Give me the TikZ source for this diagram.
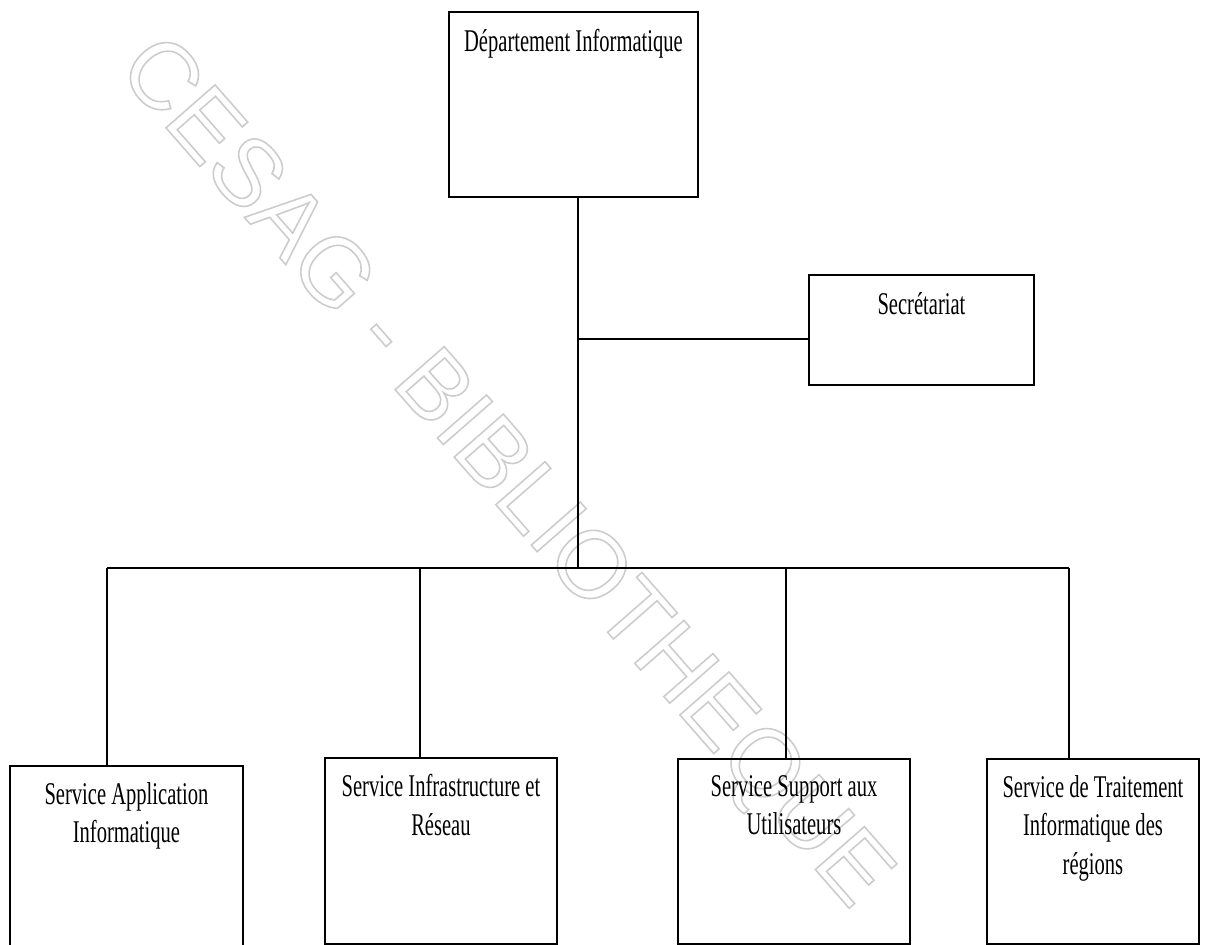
\documentclass[tikz,border=0pt]{standalone}
\usepackage{fontspec}
\setmainfont{Liberation Serif}
\newfontfamily\orgfont{Liberation Serif}[FakeStretch=0.65]
\newfontfamily\stampfont{Liberation Sans}
\usetikzlibrary{positioning}

\tikzset{
  unitbox/.style={draw, line width=1.1pt, anchor=north west, inner sep=0pt, minimum height=3.72cm},
  unittext/.style={anchor=north, inner sep=0pt, align=center, font=\orgfont\fontsize{18}{22}\selectfont, execute at begin node={\rule{0pt}{13pt}}},
  link/.style={line width=0.85pt},
  stamp/.style={text=gray!30, font=\stampfont\fontsize{54}{54}\selectfont, inner sep=0pt},
}

\begin{document}
\begin{tikzpicture}[x=0.02cm, y=-0.02cm]
  \path[use as bounding box, clip] (0,0) rectangle (1205,945);
%  \draw[red] (0,0) grid[step=100] (1205,945);
  \node[stamp, rotate=-48.8] (watermark) at (502,475) {\special{pdf:literal direct 1 Tr 0.8 0.8 0.8 RG 0.9 w}CESAG - BIBLIOTHEQUE\special{pdf:literal direct 0 Tr}};

  % head and secretariat
  \node[unitbox, minimum width=4.98cm, minimum height=3.70cm] (dept) at (448,11) {};
  \node[unittext, below=0.34cm of dept.north] (depttext) {Département Informatique};
  \node[unitbox, minimum width=4.50cm, minimum height=2.20cm] (secr) at (808,274) {};
  \node[unittext, below=0.34cm of secr.north] (secrtext) {Secrétariat};

  % services
  \node[unitbox, minimum width=4.66cm] (sai) at (9,765) {};
  \node[unittext, below=0.34cm of sai.north] (saitext) {Service Application\\Informatique};
  \node[unitbox, minimum width=4.64cm] (sir) at (324,757) {};
  \node[unittext, below=0.34cm of sir.north] (sirtext) {Service Infrastructure et\\Réseau};
  \node[unitbox, minimum width=4.64cm, minimum height=3.70cm] (ssu) at (677,758) {};
  \node[unittext, below=0.34cm of ssu.north] (ssutext) {Service Support aux\\Utilisateurs};
  \node[unitbox, minimum width=4.24cm, minimum height=3.70cm] (str) at (986,758) {};
  \node[unittext, below=0.34cm of str.north] (strtext) {Service de Traitement\\Informatique des\\régions};

  % links
  \coordinate (hub) at (578,568);
  \coordinate (secjoin) at (578,339);
  \draw[link] (dept.south -| hub) -- (hub);
  \draw[link] (secjoin) -- (secjoin -| secr.west);
  \foreach \unit/\xpos in {sai/107, sir/420, ssu/786, str/1069}{
    \coordinate (\unit-bus) at (\xpos,568);
    \draw[link] (\unit-bus) -- (\unit-bus |- \unit.north);
  }
  \draw[link, line width=1.5pt] (sai-bus) -- (str-bus);
\end{tikzpicture}
\end{document}
